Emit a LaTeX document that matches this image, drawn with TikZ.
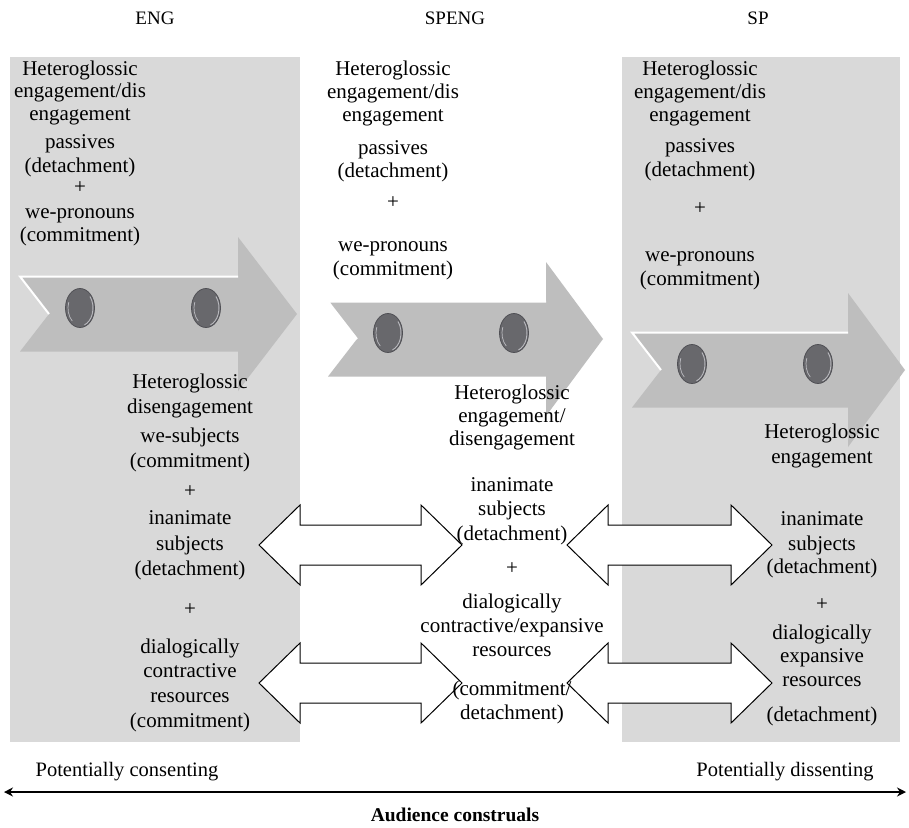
\documentclass[tikz,border=0pt]{standalone}
\usepackage{fontspec}
\setmainfont{Liberation Serif}
\usetikzlibrary{arrows.meta}
\definecolor{panel}{RGB}{217,217,217}
\definecolor{chev}{RGB}{190,190,190}
\definecolor{dot}{RGB}{104,104,108}
\definecolor{dotline}{RGB}{80,80,85}
\definecolor{dotrim}{RGB}{185,185,190}
\tikzset{
  txt/.style={font=\fontsize{21}{24}\selectfont, inner sep=0pt, text height=15pt, text depth=5pt, anchor=center},
  hdr/.style={font=\fontsize{19}{21}\selectfont, inner sep=0pt},
  lab/.style={font=\fontsize{20.5}{23}\selectfont, inner sep=0pt},
  dblarrow/.style={fill=white, draw=black, line width=1pt, line join=miter},
  axis/.style={line width=2pt, {Stealth[length=9pt,width=9pt]}-{Stealth[length=9pt,width=9pt]}}
}
\newcommand{\tl}[4]{\node[txt] (#1) at (#2,#3) {#4};}
% chevron: #1 left x, #2 centre y, #3 head base x, #4 tip x
\newcommand{\chevron}[4]{%
  \fill[chev] (#1,#2-37.5) -- (#3,#2-37.5) -- (#3,#2-77) -- (#4,#2) -- (#3,#2+77)
     -- (#3,#2+37.5) -- (#1,#2+37.5) -- (#1+29,#2) -- cycle;
  \draw[white, line width=2pt] (#1+29,#2) -- (#1,#2-37.5) -- (#3,#2-37.5);
  \foreach \dx in {60,186}{%
    \fill[dot] (#1+\dx,#2-6) ellipse [x radius=14.5, y radius=19.5];
    \draw[dotrim, line width=0.9pt] (#1+\dx,#2-6) ++(-40:13 and 18) arc [start angle=-40, end angle=70, x radius=13, y radius=18];
    \draw[dotrim, line width=0.7pt] (#1+\dx,#2-6) ++(130:12 and 17) arc [start angle=130, end angle=200, x radius=12, y radius=17];
    \draw[dotline, line width=0.8pt] (#1+\dx,#2-6) ellipse [x radius=14.5, y radius=19.5];
  }
}
% double arrow: #1 left tip x, #2 right tip x, #3 y
\newcommand{\dbl}[3]{%
  \draw[dblarrow] (#1,#3) -- (#1+41,#3-40) -- (#1+41,#3-20) -- (#2-41,#3-20) -- (#2-41,#3-40)
    -- (#2,#3) -- (#2-41,#3+40) -- (#2-41,#3+20) -- (#1+41,#3+20) -- (#1+41,#3+40) -- cycle;
}
\begin{document}
\begin{tikzpicture}[x=1pt,y=-1pt]
\useasboundingbox (0,0) rectangle (909,827);
\fill[white] (0,0) rectangle (909,827);
% panels
\fill[panel] (10,57) rectangle (300,742);
\fill[panel] (622,57) rectangle (900,742);
% chevrons
\chevron{20}{314}{238}{297}
\chevron{328}{339}{546}{603}
\chevron{632}{370}{848}{905}
% double arrows
\dbl{259}{462}{545}
\dbl{259}{462}{683}
\dbl{567}{772}{545}
\dbl{567}{772}{683}
% headers
\node[hdr] (hENG) at (155,18) {ENG};
\node[hdr] (hSPENG) at (455,18) {SPENG};
\node[hdr] (hSP) at (758,18) {SP};
% left top
\tl{a1}{80}{70}{Heteroglossic}
\tl{a2}{80}{92}{engagement/dis}
\tl{a3}{80}{115}{engagement}
\tl{a4}{80}{143}{passives}
\tl{a5}{80}{167}{(detachment)}
\tl{a6}{80}{188}{+}
\tl{a7}{80}{213}{we-pronouns}
\tl{a8}{80}{236}{(commitment)}
% middle top
\tl{b1}{393}{70}{Heteroglossic}
\tl{b2}{393}{93}{engagement/dis}
\tl{b3}{393}{116}{engagement}
\tl{b4}{393}{149}{passives}
\tl{b5}{393}{172}{(detachment)}
\tl{b6}{393}{203}{+}
\tl{b7}{393}{246}{we-pronouns}
\tl{b8}{393}{270}{(commitment)}
% right top
\tl{c1}{700}{70}{Heteroglossic}
\tl{c2}{700}{93}{engagement/dis}
\tl{c3}{700}{116}{engagement}
\tl{c4}{700}{147}{passives}
\tl{c5}{700}{171}{(detachment)}
\tl{c6}{700}{209}{+}
\tl{c7}{700}{256}{we-pronouns}
\tl{c8}{700}{280}{(commitment)}
% left bottom
\tl{d1}{190}{383}{Heteroglossic}
\tl{d2}{190}{408}{disengagement}
\tl{d3}{190}{437}{we-subjects}
\tl{d4}{190}{462}{(commitment)}
\tl{d5}{190}{492}{+}
\tl{d6}{190}{519}{inanimate}
\tl{d7}{190}{545}{subjects}
\tl{d8}{190}{570}{(detachment)}
\tl{d9}{190}{610}{+}
\tl{d10}{190}{648}{dialogically}
\tl{d11}{190}{672}{contractive}
\tl{d12}{190}{697}{resources}
\tl{d13}{190}{722}{(commitment)}
% middle bottom
\tl{e1}{512}{394}{Heteroglossic}
\tl{e2}{512}{417}{engagement/}
\tl{e3}{512}{440}{disengagement}
\tl{e4}{512}{486}{inanimate}
\tl{e5}{512}{510}{subjects}
\tl{e6}{512}{535}{(detachment)}
\tl{e7}{512}{569}{+}
\tl{e8}{512}{603}{dialogically}
\tl{e9}{512}{627}{contractive/expansive}
\tl{e10}{512}{651}{resources}
\tl{e11}{512}{690}{(commitment/}
\tl{e12}{512}{714}{detachment)}
% right bottom
\tl{f1}{822}{433}{Heteroglossic}
\tl{f2}{822}{458}{engagement}
\tl{f3}{822}{520}{inanimate}
\tl{f4}{822}{545}{subjects}
\tl{f5}{822}{568}{(detachment)}
\tl{f6}{822}{605}{+}
\tl{f7}{822}{634}{dialogically}
\tl{f8}{822}{657}{expansive}
\tl{f9}{822}{681}{resources}
\tl{f10}{822}{716}{(detachment)}
% bottom axis
\node[lab] (cons) at (127,772) {Potentially consenting};
\node[lab] (diss) at (785,772) {Potentially dissenting};
\coordinate (axL) at (4,792);
\coordinate (axR) at (906,792);
\draw[axis] (axL) -- (axR);
\node[lab, font=\fontsize{19.5}{22}\selectfont\bfseries] (aud) at (455,815) {Audience construals};
\end{tikzpicture}
\end{document}
